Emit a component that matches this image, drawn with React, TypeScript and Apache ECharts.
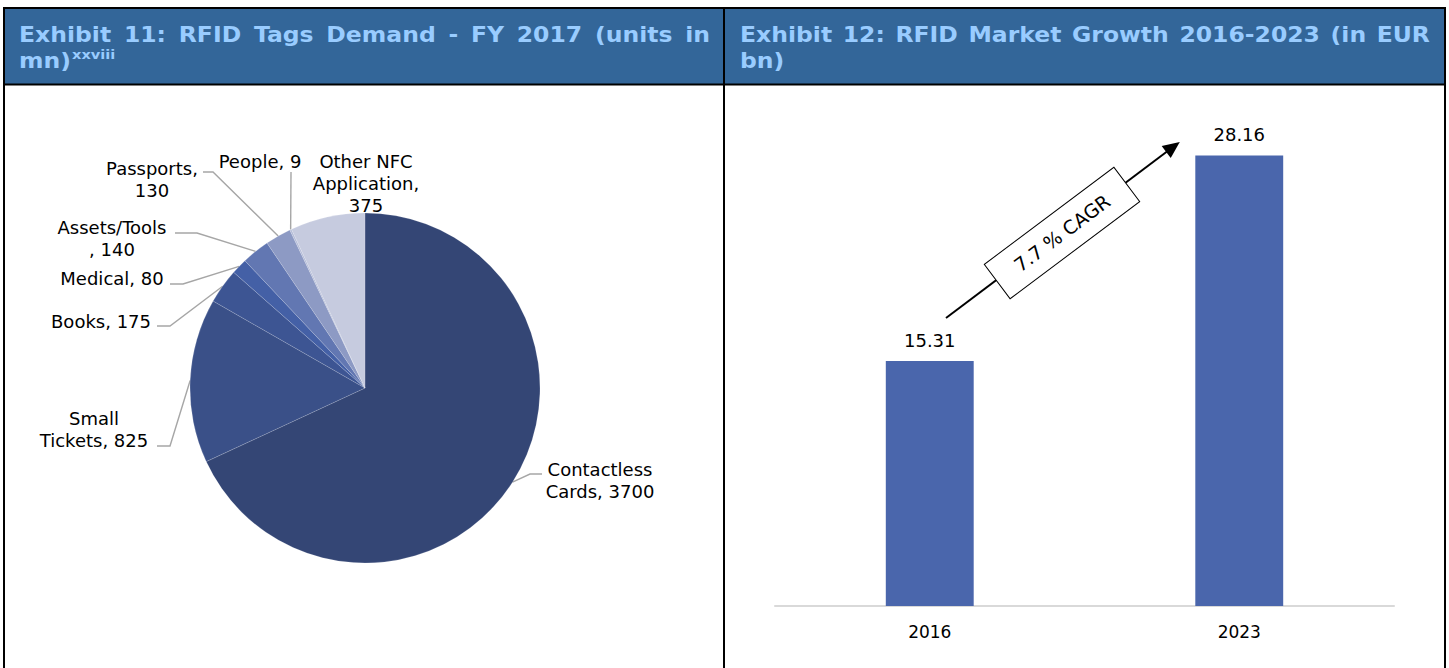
import React, { useEffect, useRef } from "react";
import * as echarts from "echarts";

// ---------- Data ----------
const pieCategories = [
  "Contactless Cards",
  "Small Tickets",
  "Books",
  "Medical",
  "Assets/Tools",
  "Passports",
  "People",
  "Other NFC Application",
];
const pieValues = [3700, 825, 175, 80, 140, 130, 9, 375];
// wrapped label templates ({c} = value)
const pieLabelTemplates = [
  "Contactless\nCards, {c}",
  "Small\nTickets, {c}",
  "Books, {c}",
  "Medical, {c}",
  "Assets/Tools\n, {c}",
  "Passports,\n{c}",
  "People, {c}",
  "Other NFC\nApplication,\n{c}",
];

const barCategories = ["2016", "2023"];
const barValues = [15.31, 28.16];
const cagrText = "7.7 % CAGR";

const leftTitleLine1 = ["Exhibit", "11:", "RFID", "Tags", "Demand", "-", "FY", "2017", "(units", "in"];
const leftTitleLine2 = "mn)";
const leftTitleSup = "xxviii";
const rightTitleLine1 = ["Exhibit", "12:", "RFID", "Market", "Growth", "2016-2023", "(in", "EUR"];
const rightTitleLine2 = "bn)";

// ---------- Layout / style ----------
const pieColors = ["#344675", "#3A5088", "#3D5593", "#4460A6", "#6277B2", "#8D9AC4", "#B4BCD8", "#C6CBDF"];
const pieLabelPos = [
  [600, 480],
  [94, 429],
  [101, 321],
  [112, 278],
  [112, 238],
  [152, 179],
  [260, 161],
  [366, 183],
];
const pieLeaderBends: (number[][] | null)[] = [
  [[530, 474], [542, 474]],
  [[170, 446], [157, 446]],
  [[170, 326], [157, 326]],
  [[183, 284], [170, 284]],
  [[197, 233], [175, 233]],
  [[213, 172], [203, 172]],
  [[291, 172], [291, 172]],
  null,
];

const TITLE_FONT_SIZE = 21;
const TITLE_SCALE_X = 1.12;
const TITLE_FAMILY = "DejaVu Sans";
const TITLE_COLOR = "#99CCFF";
const HEADER_BG = "#336699";

function justify(words: string[], x0: number, x1: number, font: string, sx: number) {
  const ctx = document.createElement("canvas").getContext("2d")!;
  ctx.font = font;
  const widths = words.map((w) => ctx.measureText(w).width * sx);
  const total = widths.reduce((a, b) => a + b, 0);
  const gap = (x1 - x0 - total) / (words.length - 1);
  let x = x0;
  return words.map((w, i) => {
    const r = { text: w, x };
    x += widths[i] + gap;
    return r;
  });
}

function measure(text: string, font: string) {
  const ctx = document.createElement("canvas").getContext("2d")!;
  ctx.font = font;
  return ctx.measureText(text).width;
}

export default function App() {
  const ref = useRef<HTMLDivElement>(null);

  useEffect(() => {
    if (!ref.current) return;
    const chart = echarts.init(ref.current, undefined, { renderer: "svg" });
    const font = `bold ${TITLE_FONT_SIZE}px "${TITLE_FAMILY}"`;

    const titleText = (text: string, x: number, y: number, size = TITLE_FONT_SIZE) => ({
      type: "text",
      x,
      y,
      z: 20,
      scaleX: TITLE_SCALE_X,
      style: {
        text,
        fill: TITLE_COLOR,
        fontSize: size,
        fontWeight: "bold",
        fontFamily: TITLE_FAMILY,
        align: "left",
        verticalAlign: "middle",
      },
    });

    const leftWords = justify(leftTitleLine1, 19, 710, font, TITLE_SCALE_X).map((w) => titleText(w.text, w.x, 34));
    const rightWords = justify(rightTitleLine1, 740, 1430, font, TITLE_SCALE_X).map((w) => titleText(w.text, w.x, 34));
    const mnWidth = measure(leftTitleLine2, font) * TITLE_SCALE_X;

    const blackLine = (x1: number, y1: number, x2: number, y2: number) => ({
      type: "line",
      z: 30,
      shape: { x1, y1, x2, y2 },
      style: { stroke: "#000", lineWidth: 2 },
    });

    const graphic: any[] = [
      { type: "rect", z: 10, shape: { x: 4, y: 8, width: 1441, height: 76 }, style: { fill: HEADER_BG } },
      ...leftWords,
      titleText(leftTitleLine2, 19, 60),
      titleText(leftTitleSup, 19 + mnWidth + 1, 54, 13),
      ...rightWords,
      titleText(rightTitleLine2, 740, 60),
      blackLine(3, 8, 1446, 8),
      blackLine(4, 7, 4, 668),
      blackLine(1445, 7, 1445, 668),
      blackLine(724, 7, 724, 668),
      blackLine(3, 84.5, 1446, 84.5),
      {
        type: "group",
        x: 1062,
        y: 233,
        rotation: (36.9 * Math.PI) / 180,
        z: 40,
        children: [
          {
            type: "rect",
            z: 40,
            shape: { x: -81, y: -21.5, width: 162, height: 43 },
            style: { fill: "#fff", stroke: "#000", lineWidth: 1 },
          },
          {
            type: "text",
            z: 41,
            x: 0,
            y: 0,
            style: {
              text: cagrText,
              fontSize: 19,
              fontFamily: "DejaVu Sans",
              fill: "#000",
              align: "center",
              verticalAlign: "middle",
            },
          },
        ],
      },
    ];

    const option: any = {
      animation: false,
      backgroundColor: "#ffffff",
      graphic,
      grid: { left: 775, right: 55, top: 126, bottom: 62, containLabel: false },
      xAxis: {
        type: "category",
        data: barCategories,
        axisLine: { lineStyle: { color: "#D9D9D9", width: 2 } },
        axisTick: { show: false },
        axisLabel: { fontSize: 17, color: "#000", margin: 17, fontFamily: "DejaVu Sans" },
      },
      yAxis: { type: "value", min: 0, max: 30, show: false, splitLine: { show: false } },
      series: [
        {
          type: "pie",
          center: [365, 388],
          radius: 175,
          startAngle: 90,
          clockwise: true,
          avoidLabelOverlap: false,
          data: pieCategories.map((name, i) => ({
            name,
            value: pieValues[i],
            itemStyle: { color: pieColors[i] },
            labelLine: { show: pieLeaderBends[i] !== null },
          })),
          itemStyle: { borderColor: "rgba(255,255,255,0.25)", borderWidth: 0.6 },
          label: {
            show: true,
            position: "outside",
            fontSize: 18,
            lineHeight: 22,
            fontFamily: "DejaVu Sans",
            color: "#000",
            formatter: (p: any) => pieLabelTemplates[p.dataIndex].replace("{c}", String(p.value)),
          },
          labelLine: { show: true, lineStyle: { color: "#A6A6A6", width: 1.4 }, length: 10, length2: 10 },
          labelLayout: (params: any) => {
            const i = params.dataIndex;
            const pos = pieLabelPos[i];
            const res: any = { x: pos[0], y: pos[1], align: "center", verticalAlign: "middle" };
            const bends = pieLeaderBends[i];
            if (bends && params.labelLinePoints) {
              res.labelLinePoints = [params.labelLinePoints[0], bends[0], bends[1]];
            }
            return res;
          },
        },
        {
          type: "bar",
          data: barValues,
          barWidth: "28.4%",
          itemStyle: { color: "#4A66AC" },
          label: {
            show: true,
            position: "top",
            distance: 12,
            fontSize: 18,
            fontFamily: "DejaVu Sans",
            color: "#000",
            formatter: (p: any) => Number(p.value).toFixed(2),
          },
          markLine: {
            silent: true,
            symbol: ["none", "triangle"],
            symbolSize: [15, 17],
            lineStyle: { color: "#000", width: 2, type: "solid" },
            label: { show: false },
            data: [[{ x: 946, y: 318 }, { x: 1173, y: 147 }]],
          },
        },
      ],
    };

    chart.setOption(option);
    return () => chart.dispose();
  }, []);

  return (
    <div
      ref={ref}
      style={{ position: "absolute", left: 0, top: 0, width: 1449, height: 668 }}
    />
  );
}
